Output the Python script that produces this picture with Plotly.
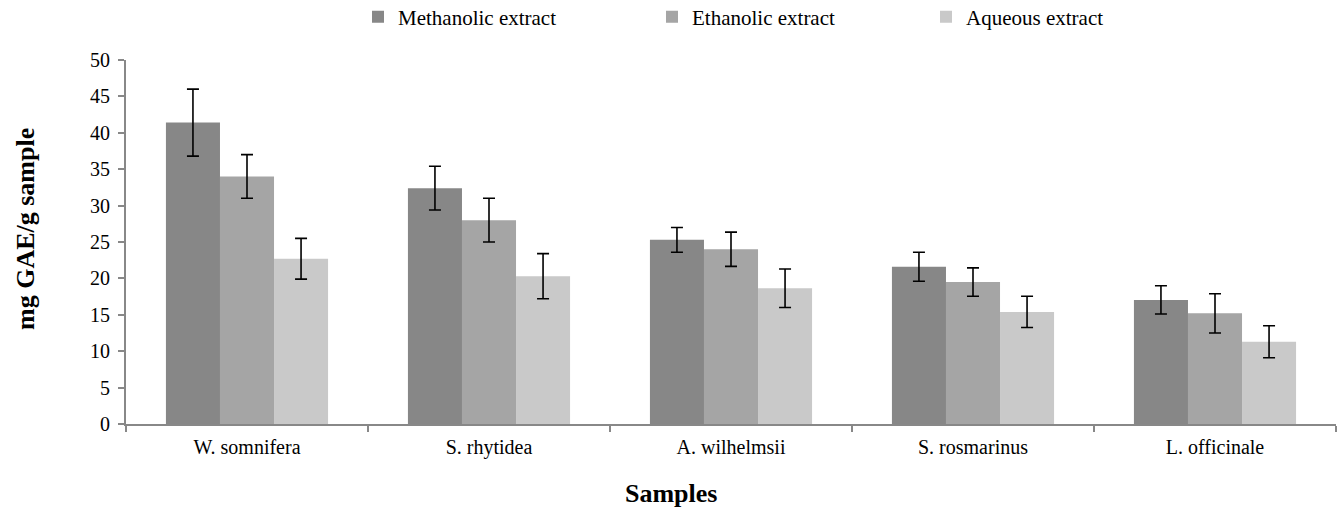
import plotly.graph_objects as go

categories = ["W. somnifera", "S. rhytidea", "A. wilhelmsii", "S. rosmarinus", "L. officinale"]
series_names = ["Methanolic extract", "Ethanolic extract", "Aqueous extract"]
methanolic = [41.4, 32.4, 25.3, 21.6, 17.05]
methanolic_err = [4.6, 3.0, 1.7, 2.0, 1.95]
ethanolic = [34.0, 28.0, 24.0, 19.5, 15.2]
ethanolic_err = [3.0, 3.0, 2.35, 1.95, 2.7]
aqueous = [22.7, 20.3, 18.65, 15.4, 11.3]
aqueous_err = [2.8, 3.1, 2.65, 2.15, 2.2]
y_ticks = [0, 5, 10, 15, 20, 25, 30, 35, 40, 45, 50]

colors = ["#878787", "#a5a5a5", "#c9c9c9"]
values = [methanolic, ethanolic, aqueous]
errors = [methanolic_err, ethanolic_err, aqueous_err]
legend_ids = ["legend", "legend2", "legend3"]
legend_x = [358 / 1337, 652 / 1337, 926 / 1337]

FONT = "Liberation Serif, Times New Roman, serif"
AXIS_COLOR = "#888888"

fig = go.Figure()
for name, vals, errs, col, lid in zip(series_names, values, errors, colors, legend_ids):
    fig.add_trace(go.Bar(
        x=categories, y=vals, name=name, legend=lid, showlegend=True,
        marker=dict(color=col, line=dict(width=0)),
        error_y=dict(type="data", array=errs, visible=True,
                     color="black", thickness=1.6, width=6),
    ))

legend_common = dict(orientation="h", xref="container", yref="container",
                     xanchor="left", y=1 - 17 / 511, yanchor="middle",
                     font=dict(size=21, family=FONT, color="black"),
                     bgcolor="rgba(0,0,0,0)", borderwidth=0)

fig.update_layout(
    width=1337, height=511, showlegend=True,
    barmode="group", bargap=0.33, bargroupgap=0,
    plot_bgcolor="white", paper_bgcolor="white",
    font=dict(family=FONT, size=20, color="black"),
    margin=dict(l=126, r=1, t=60, b=87, autoexpand=False),
    legend=dict(x=legend_x[0], **legend_common),
    legend2=dict(x=legend_x[1], **legend_common),
    legend3=dict(x=legend_x[2], **legend_common),
    xaxis=dict(
        showline=True, linecolor=AXIS_COLOR, linewidth=2,
        ticks="outside", tickson="boundaries", ticklen=6, tickcolor=AXIS_COLOR, tickwidth=1.5,
        ticklabelstandoff=4,
        tickfont=dict(size=20, family=FONT), automargin=False,
    ),
    yaxis=dict(
        range=[0, 50], tickvals=y_ticks, showgrid=False, zeroline=False,
        showline=True, linecolor=AXIS_COLOR, linewidth=2,
        ticks="outside", ticklen=6, tickcolor=AXIS_COLOR, tickwidth=1.5,
        ticklabelstandoff=4,
        tickfont=dict(size=20, family=FONT), automargin=False,
    ),
    annotations=[
        dict(text="<b>Samples</b>", xref="paper", yref="paper",
             x=(670.5 - 126) / 1210, y=(423.5 - 493) / 364,
             xanchor="center", yanchor="middle", showarrow=False,
             font=dict(size=26, family=FONT, color="black")),
        dict(text="<b>mg GAE/g sample</b>", xref="paper", yref="paper",
             x=(25 - 126) / 1210, y=(423.5 - 228.5) / 364, textangle=-90,
             xanchor="center", yanchor="middle", showarrow=False,
             font=dict(size=26, family=FONT, color="black")),
    ],
)

fig.write_html("out.html",
               config={"displayModeBar": False},
               post_script="document.body.style.margin='0';document.body.style.padding='0';")
